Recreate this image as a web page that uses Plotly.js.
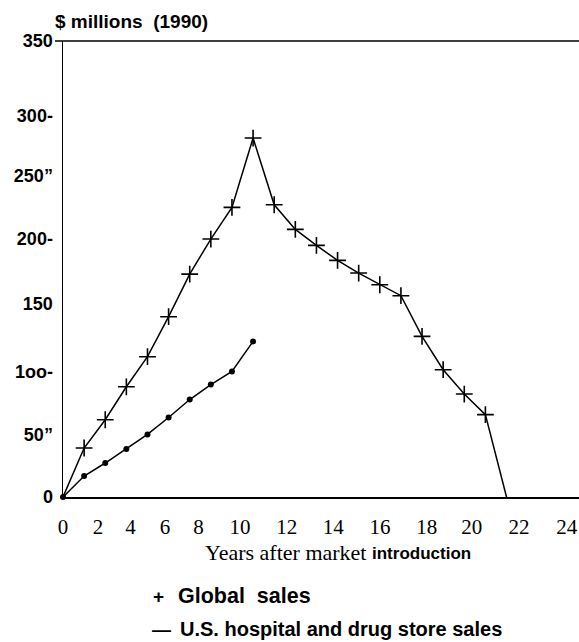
<!DOCTYPE html>
<html>
<head>
<meta charset="utf-8">
<script src="https://cdn.plot.ly/plotly-3.0.1.min.js"></script>
<style>
html,body{margin:0;padding:0;background:#fff;}
#chart{width:579px;height:642px;}
</style>
</head>
<body>
<div id="chart"></div>
<script>
// ---- data ----
const years = [0,1,2,3,4,5,6,7,8,9,10,11,12,13,14,15,16,17,18,19,20,21];
const globalSales = [0, 37.6, 59.3, 84.6, 107.7, 138.4, 171.1, 198.0, 222.3, 275.5, 224.3, 205.4, 193.1, 181.6, 171.9, 162.9, 154.5, 123.3, 97.7, 79.0, 63.2, 0];
const usYears = [0,1,2,3,4,5,6,7,8,9];
const usSales = [0, 16.1, 26.1, 36.8, 48.0, 61.0, 74.8, 86.3, 96.4, 119.4];
const xTickLabels = ['0','2','4','6','8','10','12','14','16','18','20','22','24'];
const xTickLabelPos = [0, 1.66, 3.2, 4.83, 6.42, 8.38, 10.59, 12.8, 15.01, 17.22, 19.35, 21.59, 23.85];
const yTickLabels = ['0','50\u201D','1oo-','150','200-','250\u201D','300-','350'];
const yTickLabelPos = [0, 48, 96, 148, 198, 247, 293, 350];
const seriesNames = ['Global sales', 'U.S. hospital and drug store sales'];

const black = '#000';
const sans = 'Liberation Sans, Arial, sans-serif';
const serif = 'Liberation Serif, Times New Roman, serif';

const traces = [
  {x: years, y: globalSales, mode: 'lines', name: seriesNames[0],
   line: {color: black, width: 1.5}, cliponaxis: false, showlegend: false, hoverinfo: 'skip'},
  {x: years.slice(1, years.length - 1), y: globalSales.slice(1, globalSales.length - 1), mode: 'markers', name: seriesNames[0],
   marker: {symbol: 'cross-thin', size: 12, color: black, line: {color: black, width: 1.6}},
   cliponaxis: false, showlegend: false},
  {x: usYears, y: usSales, mode: 'lines+markers', name: seriesNames[1],
   line: {color: black, width: 1.5}, marker: {symbol: 'circle', size: 6, color: black},
   cliponaxis: false, showlegend: false}
];

const W = 579, L = 63, R = 0, T = 41, B = 145;
const pw = W - L - R, ph = 642 - T - B;
const px2x = p => (p - L) / pw;
const py2y = p => (642 - B - p) / ph;

const layout = {
  width: 579, height: 642,
  margin: {l: L, r: R, t: T, b: B, pad: 0},
  paper_bgcolor: '#fff', plot_bgcolor: '#fff',
  showlegend: false,
  xaxis: {
    range: [0, pw / 21.12], showgrid: false, zeroline: false,
    showline: true, linecolor: black, linewidth: 1.5,
    tickmode: 'array', tickvals: xTickLabelPos, ticktext: xTickLabels,
    ticks: '', ticklabelstandoff: 10,
    tickfont: {family: serif, size: 21, color: black}
  },
  xaxis2: {
    overlaying: 'x', matches: 'x', anchor: 'y', side: 'bottom',
    showgrid: false, zeroline: false, showline: false,
    tickmode: 'linear', tick0: 0, dtick: 1,
    ticks: 'outside', ticklen: 7, tickwidth: 1.2, tickcolor: black,
    showticklabels: false
  },
  yaxis: {
    range: [0, 350], showgrid: false, zeroline: false,
    showline: true, linecolor: black, linewidth: 1.5,
    tickmode: 'array', tickvals: yTickLabelPos, ticktext: yTickLabels,
    ticks: '', ticklabelstandoff: 5,
    tickfont: {family: sans, size: 18, color: black, weight: 'bold'}
  },
  yaxis2: {
    overlaying: 'y', matches: 'y', anchor: 'x', side: 'left',
    showgrid: false, zeroline: false, showline: false,
    tickmode: 'array', tickvals: [yTickLabelPos[3]],
    ticks: 'outside', ticklen: 8, tickwidth: 1, tickcolor: black, showticklabels: false
  },
  shapes: [
    {type: 'line', xref: 'paper', yref: 'paper', x0: px2x(55), x1: 1, y0: 1, y1: 1,
     line: {color: black, width: 1.5}}
  ],
  annotations: [
    {text: '<b>$ millions  (1990)</b>', xref: 'paper', yref: 'paper', x: px2x(53), y: py2y(22),
     xanchor: 'left', yanchor: 'middle', showarrow: false, font: {family: sans, size: 19, color: black}},
    {text: 'Years after market', xref: 'paper', yref: 'paper', x: px2x(368), y: py2y(552),
     xanchor: 'right', yanchor: 'middle', showarrow: false, font: {family: serif, size: 22, color: black}},
    {text: '<b>introduction</b>', xref: 'paper', yref: 'paper', x: px2x(370), y: py2y(553),
     xanchor: 'left', yanchor: 'middle', showarrow: false, font: {family: sans, size: 17, color: black}},
    {text: '<b>+</b>', xref: 'paper', yref: 'paper', x: px2x(151), y: py2y(596),
     xanchor: 'left', yanchor: 'middle', showarrow: false, font: {family: sans, size: 19, color: black}},
    {text: '<b>Global  sales</b>', xref: 'paper', yref: 'paper', x: px2x(176), y: py2y(596),
     xanchor: 'left', yanchor: 'middle', showarrow: false, font: {family: sans, size: 21.5, color: black}},
    {text: '<b>\u2014</b>', xref: 'paper', yref: 'paper', x: px2x(150), y: py2y(629),
     xanchor: 'left', yanchor: 'middle', showarrow: false, font: {family: sans, size: 19, color: black}},
    {text: '<b>U.S. hospital and drug store sales</b>', xref: 'paper', yref: 'paper', x: px2x(178), y: py2y(629),
     xanchor: 'left', yanchor: 'middle', showarrow: false, font: {family: sans, size: 20, color: black}}
  ]
};

Plotly.newPlot('chart', traces, layout, {staticPlot: true, displayModeBar: false});
</script>
</body>
</html>
